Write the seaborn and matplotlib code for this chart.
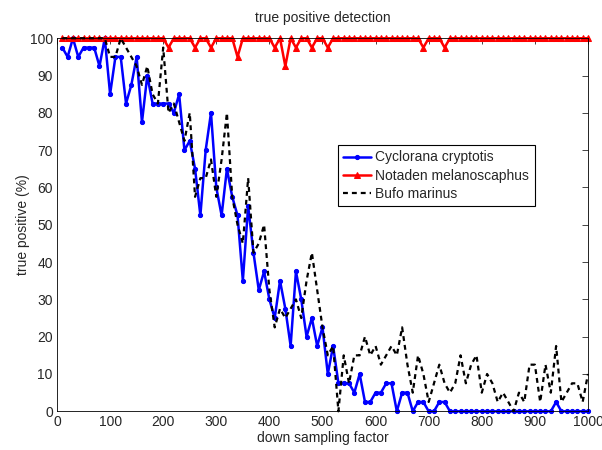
import matplotlib
matplotlib.use('Agg')
import matplotlib.pyplot as plt
import pandas as pd
import seaborn as sns

sns.set_style("white")
plt.rcParams['font.family'] = ['Liberation Sans', 'DejaVu Sans']

factor = list(range(10, 1001, 10))

cyclorana = [97.5, 95, 100, 95, 97.5, 97.5, 97.5, 92.5, 100, 85,
             95, 95, 82.5, 87.5, 95, 77.5, 90, 82.5, 82.5, 82.5,
             82.5, 80, 85, 70, 72.5, 65, 52.5, 70, 80, 60,
             52.5, 65, 57.5, 52.5, 35, 55, 42.5, 32.5, 37.5, 30,
             25, 35, 27.5, 17.5, 37.5, 30, 20, 25, 17.5, 22.5,
             10, 17.5, 7.5, 7.5, 7.5, 5, 10, 2.5, 2.5, 5,
             5, 7.5, 7.5, 0, 5, 5, 0, 2.5, 2.5, 0,
             0, 2.5, 2.5, 0, 0, 0, 0, 0, 0, 0,
             0, 0, 0, 0, 0, 0, 0, 0, 0, 0,
             0, 0, 0, 2.5, 0, 0, 0, 0, 0, 0]

notaden = [100, 100, 100, 100, 100, 100, 100, 100, 100, 100,
           100, 100, 100, 100, 100, 100, 100, 100, 100, 100,
           97.5, 100, 100, 100, 100, 97.5, 100, 100, 97.5, 100,
           100, 100, 100, 95, 100, 100, 100, 100, 100, 100,
           97.5, 100, 92.5, 100, 97.5, 100, 100, 97.5, 100, 100,
           97.5, 100, 100, 100, 100, 100, 100, 100, 100, 100,
           100, 100, 100, 100, 100, 100, 100, 100, 97.5, 100,
           100, 100, 97.5, 100, 100, 100, 100, 100, 100, 100,
           100, 100, 100, 100, 100, 100, 100, 100, 100, 100,
           100, 100, 100, 100, 100, 100, 100, 100, 100, 100]

bufo = [100, 100, 100, 100, 100, 100, 100, 100, 100, 95,
        95, 100, 97.5, 95, 92.5, 87.5, 92.5, 85, 82.5, 97.5,
        80, 82.5, 77.5, 72.5, 80, 57.5, 62.5, 62.5, 67.5, 57.5,
        67.5, 80, 57.5, 50, 45, 62.5, 42.5, 45, 50, 32.5,
        22.5, 27.5, 25, 27.5, 30, 25, 35, 42.5, 32.5, 22.5,
        15, 17.5, 0, 15, 7.5, 15, 15, 20, 15, 17.5,
        12.5, 15, 17.5, 15, 22.5, 12.5, 5, 15, 10, 2.5,
        7.5, 12.5, 7.5, 5, 7.5, 15, 7.5, 12.5, 15, 5,
        10, 7.5, 2.5, 5, 2.5, 0, 5, 2.5, 12.5, 12.5,
        2.5, 12.5, 5, 17.5, 2.5, 5, 7.5, 7.5, 2.5, 10]

df = pd.DataFrame({'factor': factor, 'Cyclorana cryptotis': cyclorana,
                   'Notaden melanoscaphus': notaden, 'Bufo marinus': bufo})

fig = plt.figure(figsize=(6.02, 4.5), dpi=100)
ax = fig.add_axes([0.0947, 0.086, 0.882, 0.829])

sns.lineplot(data=df, x='factor', y='Cyclorana cryptotis', ax=ax, color='#0000ff',
             marker='.', markersize=6, mec='#0000ff', mfc='#0000ff', linewidth=1.8,
             label='Cyclorana cryptotis', errorbar=None, sort=False, clip_on=False)
sns.lineplot(data=df, x='factor', y='Notaden melanoscaphus', ax=ax, color='#ff0000',
             marker='^', markersize=5, mec='#ff0000', mfc='#ff0000', linewidth=1.8,
             label='Notaden melanoscaphus', errorbar=None, sort=False, clip_on=False)
sns.lineplot(data=df, x='factor', y='Bufo marinus', ax=ax, color='black',
             linestyle=(0, (2.2, 1.8)), linewidth=1.6,
             label='Bufo marinus', errorbar=None, sort=False, clip_on=False)

ax.set_xlim(0, 1000)
ax.set_ylim(0, 100)
ax.set_xticks(range(0, 1001, 100))
ax.set_yticks(range(0, 101, 10))
ax.tick_params(direction='in', top=True, right=True, length=4, width=0.6,
               labelsize=10, pad=3)
for s in ax.spines.values():
    s.set_color('black')
    s.set_linewidth(0.6)

ax.set_title('true positive detection', fontsize=10, pad=12)
ax.set_xlabel('down sampling factor', fontsize=10, labelpad=1)
ax.set_ylabel('true positive (%)', fontsize=10, labelpad=0)

leg = ax.legend(loc='upper left', bbox_to_anchor=(0.529, 0.714), fontsize=10,
                fancybox=False, framealpha=1, edgecolor='black', handlelength=2.0,
                borderpad=0.4, labelspacing=0.3, handletextpad=0.3, borderaxespad=0)
leg.get_frame().set_linewidth(0.8)

fig.savefig('out.png', dpi=100)
